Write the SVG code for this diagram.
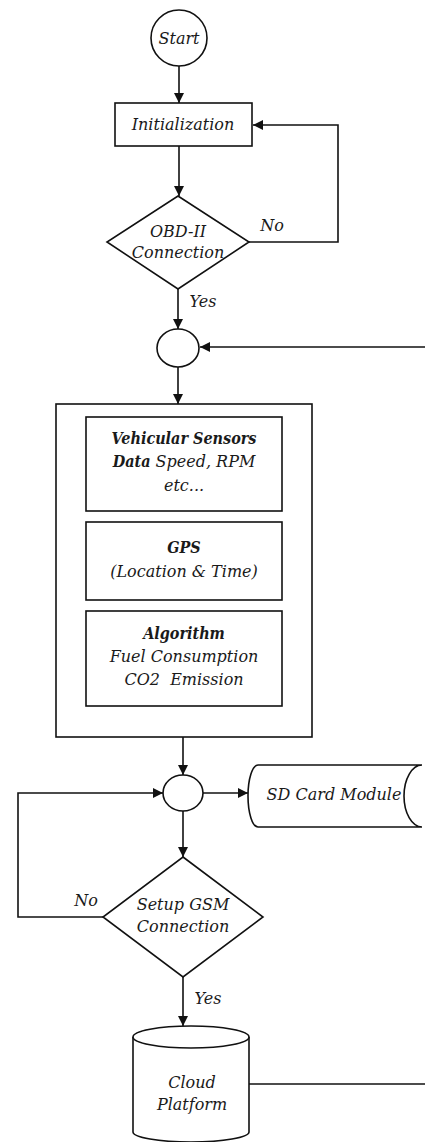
<svg xmlns="http://www.w3.org/2000/svg" width="425" height="1142" viewBox="0 0 425 1142">
<defs>
<style>
.s{fill:#fff;stroke:#111;stroke-width:1.6}
.c{fill:none;stroke:#111;stroke-width:1.6}
text{font-family:"DejaVu Serif",serif;font-style:italic;font-size:16px;fill:#1a1a1a;text-anchor:middle}
.b{font-family:"DejaVu Serif Condensed","DejaVu Serif",serif;font-weight:bold}
</style>
<marker id="ah" viewBox="0 0 10 10" refX="10" refY="5" markerWidth="10" markerHeight="10" markerUnits="userSpaceOnUse" orient="auto">
<path d="M0,0 L10,5 L0,10 Z" fill="#111"/>
</marker>
</defs>
<g id="connectors">
<path class="c" d="M179,66 V103" marker-end="url(#ah)"/>
<path class="c" d="M179,146 V196" marker-end="url(#ah)"/>
<path class="c" d="M249,242 H338 V125 H253" marker-end="url(#ah)"/>
<path class="c" d="M178,289 V329" marker-end="url(#ah)"/>
<path class="c" d="M425,347 H200" marker-end="url(#ah)"/>
<path class="c" d="M178,367 V404" marker-end="url(#ah)"/>
<path class="c" d="M183,737 V775" marker-end="url(#ah)"/>
<path class="c" d="M203,793 H248" marker-end="url(#ah)"/>
<path class="c" d="M183,811 V857" marker-end="url(#ah)"/>
<path class="c" d="M103,917 H18 V793 H163" marker-end="url(#ah)"/>
<path class="c" d="M183,977 V1026" marker-end="url(#ah)"/>
<path class="c" d="M249,1084 H425"/>
</g>
<g id="start"><circle class="s" cx="179" cy="38" r="28"/><text x="179" y="44">Start</text></g>
<g id="init"><rect class="s" x="115" y="103" width="137" height="43"/><text x="183" y="130">Initialization</text></g>
<g id="obd"><path class="s" d="M178,196 L249,242 L178,289 L107,242 Z"/><text x="178" y="237">OBD-II</text><text x="178" y="258">Connection</text></g>
<text x="272" y="231">No</text>
<text x="203" y="307">Yes</text>
<g id="join1"><ellipse class="s" cx="178" cy="348" rx="21" ry="19"/></g>
<g id="process">
<rect class="s" x="56" y="404" width="256" height="333"/>
<rect class="s" x="86" y="417" width="196" height="94"/>
<text x="184" y="444" class="b">Vehicular Sensors</text>
<text x="184" y="467"><tspan class="b">Data</tspan> Speed, RPM</text>
<text x="184" y="491">etc...</text>
<rect class="s" x="86" y="522" width="196" height="78"/>
<text x="184" y="553" class="b">GPS</text>
<text x="184" y="577">(Location &amp; Time)</text>
<rect class="s" x="86" y="611" width="196" height="95"/>
<text x="184" y="639" class="b">Algorithm</text>
<text x="184" y="662">Fuel Consumption</text>
<text x="184" y="685" xml:space="preserve">CO2  Emission</text>
</g>
<g id="join2"><ellipse class="s" cx="183" cy="793" rx="20" ry="18"/></g>
<g id="sd"><path class="s" d="M258,765 H422 A18,31 0 0,0 422,827 H258 A10,31 0 0,1 258,765 Z"/><text x="334" y="800">SD Card Module</text></g>
<g id="gsm"><path class="s" d="M183,857 L263,917 L183,977 L103,917 Z"/><text x="183" y="910">Setup GSM</text><text x="183" y="932">Connection</text></g>
<text x="86" y="906">No</text>
<text x="208" y="1004">Yes</text>
<g id="cloud"><path class="s" d="M133,1037 V1132 A58,10 0 0,0 249,1132 V1037"/><ellipse class="s" cx="191" cy="1037" rx="58" ry="11"/><text x="192" y="1088">Cloud</text><text x="192" y="1110">Platform</text></g>
</svg>
